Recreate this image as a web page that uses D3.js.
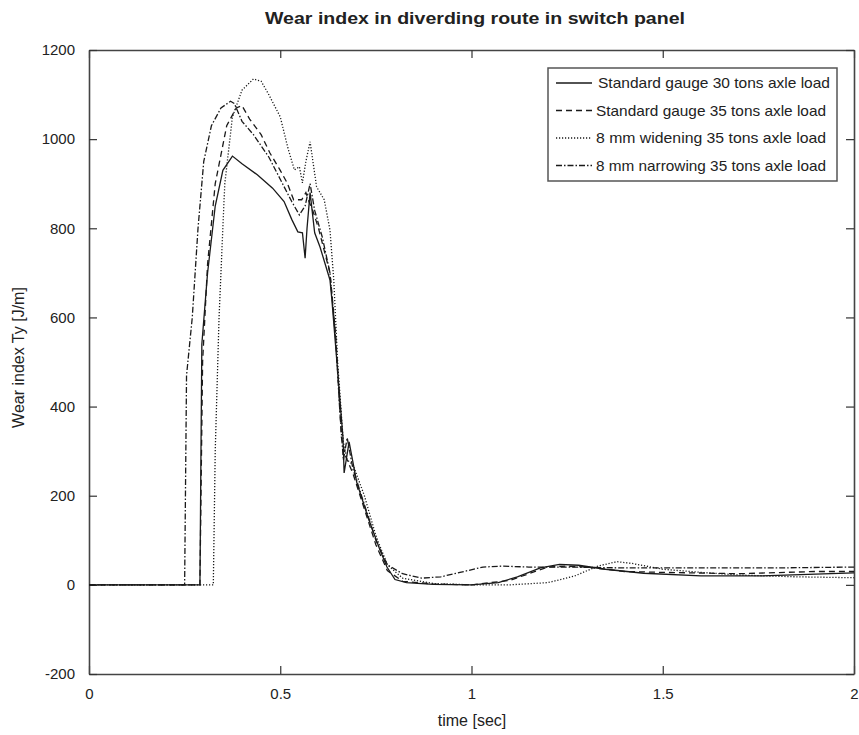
<!DOCTYPE html>
<html>
<head>
<meta charset="utf-8">
<script src="https://cdn.jsdelivr.net/npm/d3@7"></script>
<style>
  body { margin: 0; background: #fff; }
  text { font-family: "Liberation Sans", Arial, sans-serif; fill: #222; }
</style>
</head>
<body>
<div id="chart"></div>
<script>
// series: [time, wear index]
const std30 = [[0,0],[0.29,0],[0.295,540],[0.31,700],[0.33,850],[0.35,930],[0.375,962],[0.4,945],[0.44,920],[0.48,890],[0.51,860],[0.53,820],[0.546,792],[0.558,790],[0.565,733],[0.57,800],[0.578,880],[0.59,790],[0.604,758],[0.63,684],[0.635,640],[0.65,480],[0.664,330],[0.667,251],[0.68,321],[0.7,230],[0.73,150],[0.76,80],[0.779,40],[0.8,12],[0.83,5],[0.9,1],[1.0,0],[1.07,5],[1.12,18],[1.18,38],[1.23,46],[1.28,44],[1.35,35],[1.45,26],[1.6,20],[1.75,20],[1.9,24],[2.0,27]];
const std35 = [[0,0],[0.29,0],[0.297,500],[0.31,720],[0.33,900],[0.36,1030],[0.385,1070],[0.4,1075],[0.42,1045],[0.45,1010],[0.473,969],[0.5,930],[0.518,902],[0.535,864],[0.556,864],[0.567,880],[0.575,860],[0.585,840],[0.6,800],[0.63,700],[0.645,560],[0.66,330],[0.67,290],[0.69,250],[0.72,170],[0.75,90],[0.78,32],[0.82,8],[0.9,2],[1.0,0],[1.1,10],[1.2,40],[1.25,42],[1.3,40],[1.4,30],[1.5,28],[1.7,25],[1.9,30],[2.0,30]];
const widen35 = [[0,0],[0.325,0],[0.33,300],[0.34,600],[0.355,900],[0.375,1050],[0.4,1110],[0.43,1135],[0.45,1130],[0.47,1100],[0.5,1050],[0.52,980],[0.537,931],[0.55,938],[0.558,902],[0.567,950],[0.578,994],[0.595,893],[0.615,864],[0.63,796],[0.64,684],[0.65,500],[0.665,320],[0.675,280],[0.69,270],[0.72,200],[0.75,110],[0.78,45],[0.82,15],[0.9,3],[1.0,0],[1.1,0],[1.2,5],[1.27,20],[1.33,42],[1.38,52],[1.42,48],[1.5,35],[1.6,28],[1.7,22],[1.85,18],[2.0,16]];
const narrow35 = [[0,0],[0.25,0],[0.255,470],[0.27,600],[0.285,800],[0.3,950],[0.32,1030],[0.345,1070],[0.37,1085],[0.38,1080],[0.4,1040],[0.43,1010],[0.47,960],[0.5,910],[0.53,860],[0.55,830],[0.565,850],[0.578,900],[0.59,840],[0.61,780],[0.63,700],[0.645,550],[0.655,400],[0.665,280],[0.675,330],[0.69,260],[0.72,180],[0.75,100],[0.78,45],[0.82,25],[0.87,15],[0.92,18],[0.97,28],[1.03,40],[1.08,42],[1.15,40],[1.25,40],[1.4,38],[1.6,38],[1.8,38],[2.0,40]];

const seriesNames = ["Standard gauge 30 tons axle load", "Standard gauge 35 tons axle load", "8 mm widening 35 tons axle load", "8 mm narrowing 35 tons axle load"];
const seriesDash = [null, "6,4", "1.2,1.8", "6,2,1.5,2"];
const xTicks = [0, 0.5, 1, 1.5, 2];
const yTicks = [-200, 0, 200, 400, 600, 800, 1000, 1200];

const width = 859, height = 735;
const margin = {top: 50, right: 5, bottom: 61, left: 89};

const svg = d3.select("#chart").append("svg")
    .attr("width", width)
    .attr("height", height);

const x = d3.scaleLinear().domain([0, 2]).range([margin.left, width - margin.right]);
const y = d3.scaleLinear().domain([-200, 1200]).range([height - margin.bottom, margin.top]);

// axes with inward ticks
const tick = 8;
svg.append("g")
    .attr("transform", `translate(0,${y(-200)})`)
    .call(d3.axisBottom(x).tickValues(xTicks).tickFormat(d => String(d)).tickSizeInner(-tick).tickSizeOuter(0).tickPadding(14))
    .call(g => g.selectAll("text").attr("font-size", 15));
svg.append("g")
    .attr("transform", `translate(0,${y(1200)})`)
    .call(d3.axisTop(x).tickValues(xTicks).tickFormat("").tickSizeInner(-tick).tickSizeOuter(0));
svg.append("g")
    .attr("transform", `translate(${x(0)},0)`)
    .call(d3.axisLeft(y).tickValues(yTicks).tickFormat(d => String(d)).tickSizeInner(-tick).tickSizeOuter(0).tickPadding(14))
    .call(g => g.selectAll("text").attr("font-size", 15));
svg.append("g")
    .attr("transform", `translate(${x(2)},0)`)
    .call(d3.axisRight(y).tickValues(yTicks).tickFormat("").tickSizeInner(-tick).tickSizeOuter(0));

svg.selectAll(".domain").attr("stroke", "#444").attr("stroke-width", 1.6);
svg.selectAll(".tick line").attr("stroke", "#333").attr("stroke-width", 1.2);

// lines
const line = d3.line().x(d => x(d[0])).y(d => y(d[1]));
const allSeries = [std30, std35, widen35, narrow35];
svg.append("g").selectAll("path")
    .data(allSeries)
    .join("path")
    .attr("d", line)
    .attr("fill", "none")
    .attr("stroke", "#1a1a1a")
    .attr("stroke-width", 1.3)
    .attr("stroke-dasharray", (d, i) => seriesDash[i]);

// legend
const lg = svg.append("g").attr("transform", "translate(548,68)");
lg.append("rect")
    .attr("width", 289).attr("height", 113)
    .attr("fill", "#fff").attr("stroke", "#555").attr("stroke-width", 1.5);
seriesNames.forEach((name, i) => {
    const yy = 15 + i * 27.5;
    lg.append("line")
        .attr("x1", 8).attr("x2", 44).attr("y1", yy).attr("y2", yy)
        .attr("stroke", "#1a1a1a").attr("stroke-width", 1.3)
        .attr("stroke-dasharray", seriesDash[i]);
    lg.append("text")
        .attr("x", i === 0 ? 50 : 48).attr("y", yy + 5)
        .attr("font-size", 15)
        .attr("textLength", i === 0 ? 232 : 230)
        .attr("lengthAdjust", "spacingAndGlyphs")
        .text(name);
});

// titles
svg.append("text")
    .attr("x", 475).attr("y", 24)
    .attr("text-anchor", "middle")
    .attr("font-size", 17).attr("font-weight", "bold")
    .attr("textLength", 420)
    .attr("lengthAdjust", "spacingAndGlyphs")
    .text("Wear index in diverding route in switch panel");
svg.append("text")
    .attr("x", 472).attr("y", 726)
    .attr("text-anchor", "middle")
    .attr("font-size", 16)
    .text("time [sec]");
svg.append("text")
    .attr("transform", `translate(24,${y(510)}) rotate(-90)`)
    .attr("text-anchor", "middle")
    .attr("font-size", 16)
    .text("Wear index Ty [J/m]");
</script>
</body>
</html>
